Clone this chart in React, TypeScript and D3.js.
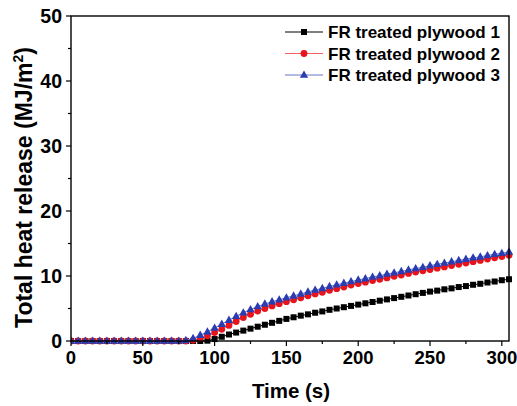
import * as d3 from 'd3';
import React from 'react';

// time axis, one reading every 5 s
const times = d3.range(0, 306, 5);

// total heat release readings (MJ/m2)
const plywood1 = [
  0, 0, 0, 0, 0, 0, 0, 0, 0, 0, 0, 0, 0, 0, 0, 0, 0, 0, 0,
  0.05, 0.3, 0.65, 1.0, 1.3, 1.6, 1.9, 2.2, 2.5, 2.8, 3.1, 3.4, 3.65, 3.9, 4.1,
  4.35, 4.55, 4.8, 5.0, 5.2, 5.4, 5.6, 5.8, 6.0, 6.2, 6.4, 6.6, 6.8, 7.0, 7.2,
  7.4, 7.6, 7.75, 7.95, 8.1, 8.3, 8.45, 8.65, 8.8, 9.0, 9.15, 9.35, 9.5,
];
const plywood2 = [
  0, 0, 0, 0, 0, 0, 0, 0, 0, 0, 0, 0, 0, 0, 0, 0, 0,
  0.1, 0.4, 0.8, 1.3, 1.8, 2.4, 3.0, 3.6, 4.1, 4.6, 5.0, 5.4, 5.75, 6.05, 6.35,
  6.65, 6.95, 7.25, 7.5, 7.8, 8.05, 8.3, 8.6, 8.85, 9.05, 9.3, 9.5, 9.7, 9.95,
  10.15, 10.4, 10.6, 10.8, 11.0, 11.2, 11.4, 11.6, 11.8, 12.0, 12.2, 12.4, 12.6,
  12.8, 13.0, 13.2,
];
const plywood3 = [
  0, 0, 0, 0, 0, 0, 0, 0, 0, 0, 0, 0, 0, 0, 0, 0,
  0.1, 0.4, 0.9, 1.4, 2.0, 2.6, 3.2, 3.8, 4.35, 4.85, 5.3, 5.7, 6.05, 6.35, 6.65,
  6.95, 7.25, 7.55, 7.85, 8.1, 8.4, 8.65, 8.9, 9.15, 9.4, 9.6, 9.85, 10.05, 10.3,
  10.5, 10.7, 10.95, 11.15, 11.35, 11.6, 11.8, 12.0, 12.2, 12.4, 12.6, 12.8,
  12.95, 13.15, 13.35, 13.5, 13.7,
];

const seriesNames = ['FR treated plywood 1', 'FR treated plywood 2', 'FR treated plywood 3'];
const xTicks = [0, 50, 100, 150, 200, 250, 300];
const yTicks = [0, 10, 20, 30, 40, 50];

const width = 517,
  height = 406;
const margin = { top: 16, right: 8, bottom: 65, left: 71 };

const styles = [
  { fill: '#000000', line: '#000000', shape: 'square' },
  { fill: '#e8141c', line: '#f06060', shape: 'circle' },
  { fill: '#2b3cb0', line: '#6a78c8', shape: 'triangle' },
];

const Marker = ({ shape, x, y, fill }) => {
  if (shape === 'square') return <rect x={x - 3} y={y - 3} width={6} height={6} fill={fill} />;
  if (shape === 'circle') return <circle cx={x} cy={y} r={3.4} fill={fill} />;
  return <path d={`M${x},${y - 4.6}L${x + 4.2},${y + 2.8}L${x - 4.2},${y + 2.8}Z`} fill={fill} />;
};

export default function App() {
  const x = d3.scaleLinear().domain([0, 305]).range([margin.left, width - margin.right]);
  const y = d3.scaleLinear().domain([0, 50]).range([height - margin.bottom, margin.top]);
  const all = [plywood1, plywood2, plywood3];
  const line = d3
    .line<number>()
    .x((d, i) => x(times[i]))
    .y((d) => y(d));

  const x0 = x.range()[0],
    x1 = x.range()[1],
    y0 = y.range()[0],
    y1 = y.range()[1];
  const font = 'Arial, "Liberation Sans", Helvetica, sans-serif';

  return (
    <div style={{ position: 'absolute', left: 0, top: 0 }}>
      <svg width={width} height={height} style={{ display: 'block', background: '#fff' }}>
        <defs>
          <clipPath id="plotArea">
            <rect x={x0} y={y1 - 5} width={x1 - x0 + 4} height={y0 - y1 + 10} />
          </clipPath>
        </defs>

        {/* series */}
        <g clipPath="url(#plotArea)">
          {all.map((vals, s) => (
            <g key={s}>
              <path d={line(vals)} fill="none" stroke={styles[s].line} strokeWidth={1} />
              {vals.map((v, i) => (
                <Marker key={i} shape={styles[s].shape} x={x(times[i])} y={y(v)} fill={styles[s].fill} />
              ))}
            </g>
          ))}
        </g>

        {/* frame */}
        <rect x={x0} y={y1} width={x1 - x0} height={y0 - y1} fill="none" stroke="#000" strokeWidth={1.4} />

        {/* x axis */}
        {d3.range(0, 301, 25).map((t) => (
          <line key={t} x1={x(t)} x2={x(t)} y1={y0} y2={y0 + (t % 50 === 0 ? 5 : 3)} stroke="#000" strokeWidth={1.2} />
        ))}
        {xTicks.map((t) => (
          <text key={t} x={x(t)} y={y0 + 23} textAnchor="middle" fontFamily={font} fontWeight="bold" fontSize={18.5}>
            {t}
          </text>
        ))}
        <text x={291} y={398} textAnchor="middle" fontFamily={font} fontWeight="bold" fontSize={20.5}>
          Time (s)
        </text>

        {/* y axis */}
        {d3.range(0, 51, 5).map((v) => (
          <line key={v} x1={x0} x2={x0 - (v % 10 === 0 ? 5 : 3)} y1={y(v)} y2={y(v)} stroke="#000" strokeWidth={1.2} />
        ))}
        {yTicks.map((v) => (
          <text key={v} x={x0 - 9} y={y(v)} dy="0.36em" textAnchor="end" fontFamily={font} fontWeight="bold" fontSize={19.5}>
            {v}
          </text>
        ))}
        <text
          transform={`translate(32, ${(y0 + y1) / 2 + 9}) rotate(-90)`}
          textAnchor="middle"
          fontFamily={font}
          fontWeight="bold"
          fontSize={23}
        >
          Total heat release (MJ/m<tspan dy="-9" fontSize={14}>2</tspan>
          <tspan dy="9">)</tspan>
        </text>

        {/* legend */}
        {seriesNames.map((name, s) => {
          const ly = 32 + s * 21.5;
          return (
            <g key={name}>
              <line x1={285} x2={323} y1={ly} y2={ly} stroke={styles[s].line} strokeWidth={1} />
              <Marker shape={styles[s].shape} x={304} y={ly} fill={styles[s].fill} />
              <text x={328} y={ly} dy="0.36em" fontFamily={font} fontWeight="bold" fontSize={17}>
                {name}
              </text>
            </g>
          );
        })}
      </svg>
    </div>
  );
}
